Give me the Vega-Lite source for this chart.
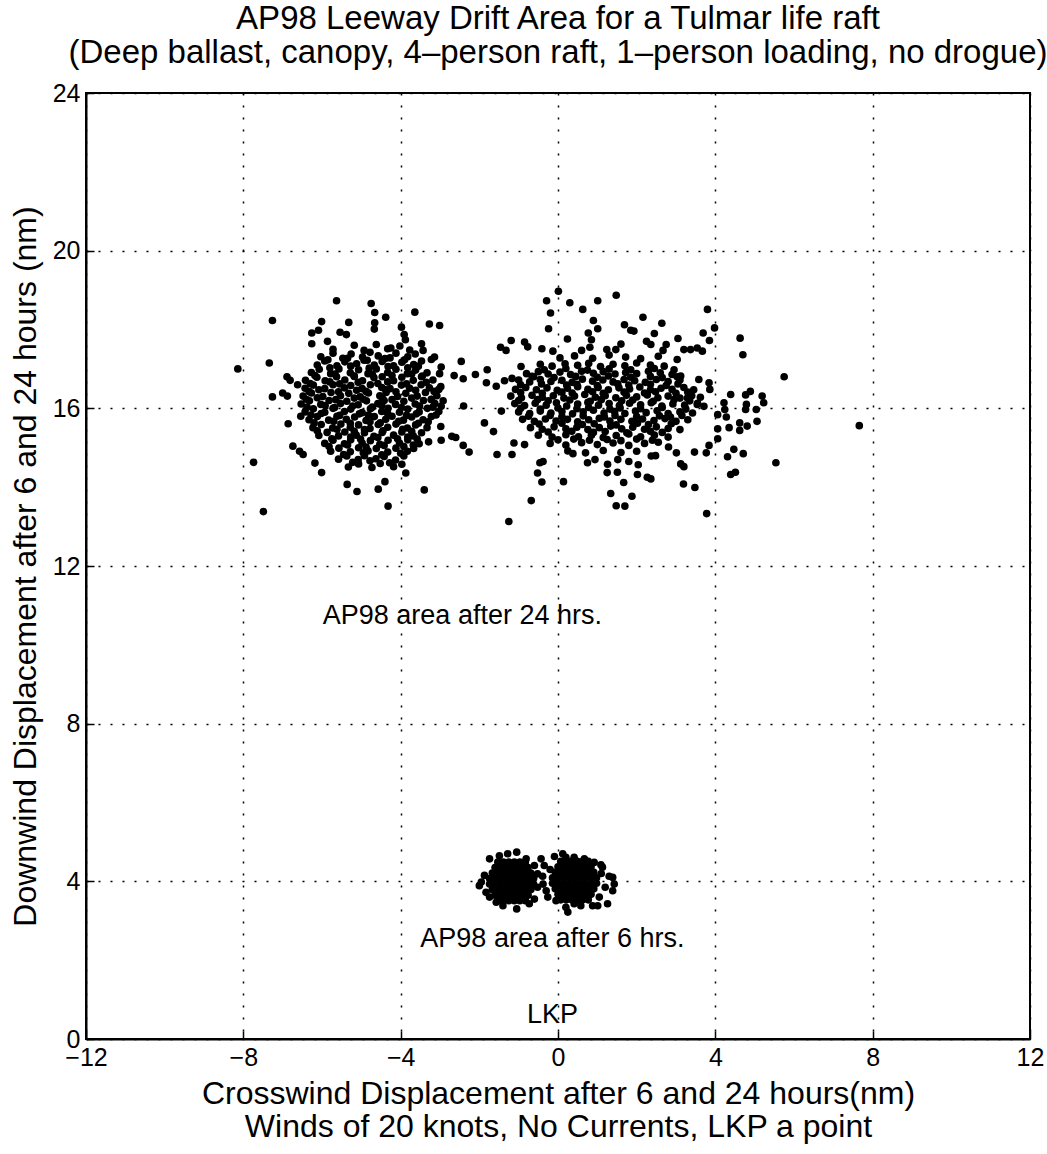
{
  "$schema": "https://vega.github.io/schema/vega-lite/v6.json",
  "autosize": {"type": "none"},
  "width": 944,
  "height": 946,
  "padding": {"left": 86, "top": 93, "right": 17, "bottom": 115},
  "background": "white",
  "config": {
    "font": "Liberation Sans",
    "view": {"stroke": "black", "strokeWidth": 2},
    "title": {"fontSize": 33, "fontWeight": "normal", "color": "black", "font": "Liberation Sans", "offset": 11, "lineHeight": 34}
  },
  "title": {"text": ["AP98 Leeway Drift Area for a Tulmar life raft", "(Deep ballast, canopy, 4–person raft, 1–person loading, no drogue)"]},
  "datasets": {
    "pts": [
      {"x":-5.63,"y":18.73},{"x":-4.75,"y":18.66},{"x":-7.26,"y":18.23},{"x":-3.64,"y":18.44},{"x":-4.66,"y":18.43},{"x":-4.38,"y":18.31},{"x":-3.27,"y":18.14},{"x":-3.01,"y":18.1},{"x":-6.01,"y":18.2},{"x":-5.32,"y":18.18},
      {"x":-8.14,"y":17.0},{"x":-7.34,"y":17.15},{"x":-7.26,"y":16.29},{"x":-7.74,"y":14.63},{"x":-7.49,"y":13.38},{"x":-4.32,"y":13.52},{"x":-3.4,"y":13.93},{"x":-2.26,"y":14.89},{"x":-2.41,"y":15.06},{"x":-2.1,"y":16.86},
      {"x":-2.4,"y":16.06},{"x":-2.46,"y":17.19},{"x":-2.64,"y":16.83},{"x":-2.41,"y":16.75},{"x":-2.7,"y":15.29},{"x":-2.6,"y":15.26},{"x":-2.98,"y":15.54},{"x":-2.97,"y":15.19},{"x":-3.29,"y":15.15},{"x":-5.11,"y":13.89},
      {"x":-4.57,"y":13.95},{"x":-5.36,"y":14.07},{"x":-3.87,"y":14.36},{"x":-4.4,"y":14.14},{"x":-6.01,"y":14.37},{"x":-6.18,"y":14.61},{"x":-6.74,"y":15.04},{"x":-6.57,"y":14.91},{"x":-6.48,"y":14.83},{"x":-6.86,"y":15.61},
      {"x":-6.54,"y":15.8},{"x":-7.0,"y":16.39},{"x":-6.88,"y":16.31},{"x":-6.89,"y":16.8},{"x":-6.81,"y":16.71},{"x":-6.62,"y":16.6},{"x":-6.26,"y":17.91},{"x":-6.09,"y":17.98},{"x":-5.86,"y":17.7},{"x":-6.26,"y":17.64},
      {"x":-5.54,"y":17.93},{"x":-5.38,"y":17.87},{"x":-4.66,"y":18.17},{"x":-4.67,"y":18.01},{"x":-3.98,"y":18.06},{"x":-3.91,"y":17.87},{"x":-3.88,"y":17.74},{"x":-3.47,"y":17.64},{"x":-3.43,"y":17.47},{"x":-4.25,"y":17.53},
      {"x":-3.14,"y":17.3},{"x":-3.22,"y":17.24},{"x":-2.97,"y":17.05},{"x":-3.01,"y":16.88},{"x":-2.98,"y":16.55},{"x":-3.22,"y":16.22},{"x":-2.97,"y":16.05},
      {"x":-5.72,"y":17.5},{"x":-5.18,"y":17.6},{"x":-4.93,"y":17.47},{"x":-4.62,"y":17.62},{"x":-4.33,"y":17.51},{"x":-4.02,"y":17.58},{"x":-3.77,"y":17.48},
      {"x":-6.03,"y":17.31},{"x":-5.72,"y":17.4},{"x":-5.47,"y":17.27},{"x":-5.26,"y":17.38},{"x":-4.97,"y":17.3},{"x":-4.78,"y":17.42},{"x":-4.57,"y":17.33},{"x":-4.27,"y":17.28},{"x":-4.12,"y":17.4},{"x":-3.82,"y":17.31},{"x":-3.63,"y":17.38},
      {"x":-6.12,"y":17.1},{"x":-5.93,"y":17.2},{"x":-5.62,"y":17.08},{"x":-5.42,"y":17.18},{"x":-5.12,"y":17.13},{"x":-4.93,"y":17.22},{"x":-4.67,"y":17.1},{"x":-4.47,"y":17.19},{"x":-4.18,"y":17.08},{"x":-3.97,"y":17.17},{"x":-3.67,"y":17.11},{"x":-3.47,"y":17.2},
      {"x":-6.27,"y":16.91},{"x":-6.07,"y":16.99},{"x":-5.78,"y":16.88},{"x":-5.57,"y":17.0},{"x":-5.28,"y":16.9},{"x":-5.07,"y":16.98},{"x":-4.83,"y":16.88},{"x":-4.62,"y":17.0},{"x":-4.33,"y":16.91},{"x":-4.12,"y":16.99},{"x":-3.83,"y":16.88},{"x":-3.62,"y":16.97},{"x":-3.33,"y":16.9},
      {"x":-6.42,"y":16.71},{"x":-6.13,"y":16.79},{"x":-5.92,"y":16.7},{"x":-5.63,"y":16.8},{"x":-5.42,"y":16.72},{"x":-5.18,"y":16.81},{"x":-4.97,"y":16.7},{"x":-4.68,"y":16.78},{"x":-4.47,"y":16.8},{"x":-4.18,"y":16.7},{"x":-3.97,"y":16.79},{"x":-3.68,"y":16.71},{"x":-3.47,"y":16.8},{"x":-3.18,"y":16.72},
      {"x":-6.43,"y":16.51},{"x":-6.22,"y":16.59},{"x":-5.93,"y":16.5},{"x":-5.72,"y":16.6},{"x":-5.43,"y":16.52},{"x":-5.27,"y":16.58},{"x":-4.98,"y":16.5},{"x":-4.77,"y":16.6},{"x":-4.48,"y":16.53},{"x":-4.27,"y":16.5},{"x":-3.98,"y":16.59},{"x":-3.77,"y":16.51},{"x":-3.48,"y":16.6},{"x":-3.27,"y":16.52},{"x":-3.03,"y":16.48},
      {"x":-6.48,"y":16.31},{"x":-6.27,"y":16.39},{"x":-5.98,"y":16.3},{"x":-5.77,"y":16.4},{"x":-5.53,"y":16.32},{"x":-5.32,"y":16.38},{"x":-5.03,"y":16.29},{"x":-4.82,"y":16.39},{"x":-4.53,"y":16.32},{"x":-4.37,"y":16.4},{"x":-4.08,"y":16.3},{"x":-3.87,"y":16.38},{"x":-3.58,"y":16.31},{"x":-3.37,"y":16.4},{"x":-3.08,"y":16.32},
      {"x":-6.53,"y":16.11},{"x":-6.32,"y":16.19},{"x":-6.03,"y":16.1},{"x":-5.82,"y":16.2},{"x":-5.53,"y":16.12},{"x":-5.37,"y":16.18},{"x":-5.08,"y":16.09},{"x":-4.87,"y":16.19},{"x":-4.58,"y":16.12},{"x":-4.42,"y":16.2},{"x":-4.13,"y":16.1},{"x":-3.92,"y":16.18},{"x":-3.63,"y":16.11},{"x":-3.42,"y":16.2},{"x":-3.13,"y":16.12},{"x":-2.92,"y":16.19},
      {"x":-6.43,"y":15.91},{"x":-6.22,"y":15.99},{"x":-5.93,"y":15.9},{"x":-5.72,"y":16.0},{"x":-5.43,"y":15.92},{"x":-5.27,"y":15.98},{"x":-4.98,"y":15.89},{"x":-4.77,"y":15.99},{"x":-4.48,"y":15.92},{"x":-4.32,"y":16.0},{"x":-4.03,"y":15.9},{"x":-3.82,"y":15.98},{"x":-3.53,"y":15.91},{"x":-3.32,"y":16.0},{"x":-3.03,"y":15.92},
      {"x":-6.33,"y":15.71},{"x":-6.12,"y":15.79},{"x":-5.83,"y":15.7},{"x":-5.62,"y":15.8},{"x":-5.38,"y":15.72},{"x":-5.17,"y":15.78},{"x":-4.88,"y":15.69},{"x":-4.67,"y":15.79},{"x":-4.38,"y":15.72},{"x":-4.22,"y":15.8},{"x":-3.93,"y":15.7},{"x":-3.72,"y":15.78},{"x":-3.43,"y":15.71},{"x":-3.22,"y":15.79},
      {"x":-6.23,"y":15.51},{"x":-6.02,"y":15.59},{"x":-5.73,"y":15.5},{"x":-5.52,"y":15.6},{"x":-5.28,"y":15.52},{"x":-5.07,"y":15.58},{"x":-4.78,"y":15.49},{"x":-4.57,"y":15.59},{"x":-4.33,"y":15.52},{"x":-4.12,"y":15.6},{"x":-3.83,"y":15.5},{"x":-3.62,"y":15.58},{"x":-3.33,"y":15.51},
      {"x":-6.08,"y":15.31},{"x":-5.87,"y":15.39},{"x":-5.58,"y":15.3},{"x":-5.42,"y":15.4},{"x":-5.13,"y":15.32},{"x":-4.92,"y":15.38},{"x":-4.68,"y":15.29},{"x":-4.47,"y":15.39},{"x":-4.18,"y":15.32},{"x":-3.97,"y":15.4},{"x":-3.68,"y":15.3},{"x":-3.47,"y":15.38},
      {"x":-5.93,"y":15.11},{"x":-5.72,"y":15.19},{"x":-5.43,"y":15.1},{"x":-5.27,"y":15.2},{"x":-4.98,"y":15.12},{"x":-4.77,"y":15.18},{"x":-4.53,"y":15.09},{"x":-4.32,"y":15.19},{"x":-4.03,"y":15.12},{"x":-3.82,"y":15.2},{"x":-3.53,"y":15.1},
      {"x":-5.78,"y":14.91},{"x":-5.57,"y":14.99},{"x":-5.28,"y":14.9},{"x":-5.07,"y":15.0},{"x":-4.83,"y":14.92},{"x":-4.62,"y":14.98},{"x":-4.33,"y":14.89},{"x":-4.12,"y":14.99},{"x":-3.83,"y":14.91},{"x":-3.67,"y":14.98},
      {"x":-5.58,"y":14.71},{"x":-5.37,"y":14.79},{"x":-5.08,"y":14.7},{"x":-4.92,"y":14.8},{"x":-4.63,"y":14.72},{"x":-4.42,"y":14.78},{"x":-4.13,"y":14.69},{"x":-3.92,"y":14.79},
      {"x":-5.33,"y":14.51},{"x":-5.07,"y":14.59},{"x":-4.73,"y":14.5},{"x":-4.52,"y":14.6},{"x":-4.18,"y":14.52},{"x":-3.97,"y":14.58},
      {"x":-5.85,"y":17.23},{"x":-5.35,"y":17.27},{"x":-4.85,"y":17.22},{"x":-4.4,"y":17.26},{"x":-3.9,"y":17.23},
      {"x":-5.8,"y":17.03},{"x":-5.27,"y":17.07},{"x":-4.8,"y":17.02},{"x":-4.32,"y":17.06},{"x":-3.82,"y":17.03},{"x":-3.55,"y":17.07},
      {"x":-6.18,"y":16.83},{"x":-5.67,"y":16.87},{"x":-5.18,"y":16.82},{"x":-4.72,"y":16.86},{"x":-4.22,"y":16.83},{"x":-3.72,"y":16.87},{"x":-3.45,"y":16.82},
      {"x":-6.3,"y":16.63},{"x":-5.8,"y":16.67},{"x":-5.55,"y":16.62},{"x":-5.08,"y":16.66},{"x":-4.58,"y":16.63},{"x":-4.33,"y":16.67},{"x":-3.85,"y":16.62},{"x":-3.35,"y":16.66},
      {"x":-6.33,"y":16.43},{"x":-6.08,"y":16.47},{"x":-5.58,"y":16.42},{"x":-5.12,"y":16.46},{"x":-4.88,"y":16.43},{"x":-4.38,"y":16.47},{"x":-4.12,"y":16.42},{"x":-3.62,"y":16.46},{"x":-3.15,"y":16.43},
      {"x":-6.4,"y":16.23},{"x":-6.12,"y":16.27},{"x":-5.65,"y":16.22},{"x":-5.18,"y":16.26},{"x":-4.95,"y":16.23},{"x":-4.47,"y":16.27},{"x":-4.22,"y":16.22},{"x":-3.72,"y":16.26},{"x":-3.22,"y":16.23},
      {"x":-6.38,"y":16.03},{"x":-5.92,"y":16.07},{"x":-5.68,"y":16.02},{"x":-5.22,"y":16.06},{"x":-4.72,"y":16.03},{"x":-4.48,"y":16.07},{"x":-3.98,"y":16.02},{"x":-3.52,"y":16.06},{"x":-3.18,"y":16.03},
      {"x":-6.28,"y":15.83},{"x":-6.02,"y":15.87},{"x":-5.55,"y":15.82},{"x":-5.05,"y":15.86},{"x":-4.82,"y":15.83},{"x":-4.33,"y":15.87},{"x":-3.85,"y":15.82},{"x":-3.6,"y":15.86},{"x":-3.1,"y":15.83},
      {"x":-6.2,"y":15.63},{"x":-5.7,"y":15.67},{"x":-5.28,"y":15.62},{"x":-4.78,"y":15.66},{"x":-4.52,"y":15.63},{"x":-4.05,"y":15.67},{"x":-3.55,"y":15.62},{"x":-3.3,"y":15.66},
      {"x":-6.12,"y":15.43},{"x":-5.62,"y":15.47},{"x":-5.18,"y":15.42},{"x":-4.92,"y":15.46},{"x":-4.45,"y":15.43},{"x":-3.95,"y":15.47},{"x":-3.72,"y":15.42},
      {"x":-5.75,"y":15.23},{"x":-5.27,"y":15.27},{"x":-5.02,"y":15.22},{"x":-4.58,"y":15.26},{"x":-4.08,"y":15.23},{"x":-3.82,"y":15.27},{"x":-3.58,"y":15.22},
      {"x":-5.82,"y":15.03},{"x":-5.35,"y":15.07},{"x":-4.88,"y":15.02},{"x":-4.42,"y":15.06},{"x":-3.92,"y":15.03},{"x":-3.68,"y":15.07},
      {"x":-5.45,"y":14.83},{"x":-4.95,"y":14.87},{"x":-4.48,"y":14.82},{"x":-4.0,"y":14.86},
      {"x":-5.22,"y":14.63},{"x":-4.78,"y":14.67},{"x":-4.28,"y":14.62},
      {"x":0.01,"y":18.97},{"x":-0.29,"y":18.73},{"x":0.3,"y":18.68},{"x":1.01,"y":18.73},{"x":1.48,"y":18.87},{"x":-0.19,"y":18.42},{"x":0.63,"y":18.51},{"x":2.16,"y":18.31},{"x":0.9,"y":18.23},{"x":1.01,"y":18.02},
      {"x":1.69,"y":18.12},{"x":1.85,"y":17.98},{"x":1.93,"y":17.96},{"x":2.64,"y":18.16},{"x":3.8,"y":18.51},{"x":-0.24,"y":18.02},{"x":3.69,"y":17.91},{"x":3.98,"y":18.04},{"x":3.85,"y":17.72},{"x":4.63,"y":17.78},
      {"x":4.7,"y":17.36},{"x":3.05,"y":17.77},{"x":2.45,"y":17.9},{"x":2.25,"y":17.7},{"x":2.36,"y":17.62},{"x":2.75,"y":17.62},{"x":2.67,"y":17.47},{"x":0.77,"y":17.91},{"x":0.85,"y":17.74},{"x":0.81,"y":17.55},
      {"x":0.24,"y":17.76},{"x":-1.19,"y":17.72},{"x":-1.46,"y":17.55},{"x":-1.32,"y":17.47},{"x":-0.85,"y":17.68},{"x":-0.77,"y":17.56},{"x":-0.41,"y":17.51},{"x":-0.13,"y":17.45},{"x":0.6,"y":17.47},{"x":1.24,"y":17.49},
      {"x":1.47,"y":17.49},{"x":1.6,"y":17.63},{"x":-1.8,"y":16.98},{"x":-1.82,"y":16.65},{"x":-1.57,"y":16.56},{"x":-1.36,"y":16.7},{"x":-1.17,"y":16.76},{"x":-0.94,"y":17.06},{"x":-0.66,"y":16.81},{"x":-1.87,"y":15.63},
      {"x":-1.64,"y":15.41},{"x":-1.55,"y":14.83},{"x":-1.17,"y":14.83},{"x":-0.85,"y":15.08},{"x":-1.12,"y":15.12},{"x":-1.44,"y":15.93},{"x":-0.68,"y":13.66},{"x":-0.41,"y":14.13},{"x":-0.52,"y":14.36},{"x":-0.46,"y":14.62},
      {"x":-0.38,"y":14.65},{"x":0.14,"y":14.14},{"x":0.38,"y":14.85},{"x":1.34,"y":13.84},{"x":1.88,"y":13.77},{"x":1.48,"y":13.53},{"x":1.7,"y":13.52},{"x":1.67,"y":14.12},{"x":1.25,"y":14.37},{"x":1.51,"y":14.38},
      {"x":2.02,"y":14.32},{"x":2.27,"y":14.25},{"x":2.36,"y":14.21},{"x":0.75,"y":14.62},{"x":0.94,"y":14.7},{"x":1.26,"y":14.58},{"x":1.52,"y":14.7},{"x":1.8,"y":14.65},{"x":2.04,"y":14.57},{"x":2.37,"y":14.79},
      {"x":2.48,"y":14.8},{"x":2.81,"y":15.02},{"x":3.01,"y":14.87},{"x":3.47,"y":14.89},{"x":3.12,"y":14.59},{"x":3.2,"y":14.52},{"x":3.19,"y":14.08},{"x":3.48,"y":13.99},{"x":3.78,"y":13.33},{"x":3.77,"y":14.87},
      {"x":3.84,"y":15.06},{"x":4.06,"y":15.23},{"x":4.31,"y":14.77},{"x":4.47,"y":14.96},{"x":4.71,"y":14.85},{"x":4.39,"y":14.32},{"x":4.51,"y":14.38},{"x":5.54,"y":14.62},{"x":5.06,"y":15.67},{"x":5.04,"y":15.97},
      {"x":5.23,"y":16.14},{"x":5.19,"y":16.31},{"x":4.77,"y":16.34},{"x":4.89,"y":16.43},{"x":4.79,"y":16.1},{"x":4.77,"y":15.97},{"x":4.62,"y":15.63},{"x":4.62,"y":15.44},{"x":4.81,"y":15.55},{"x":4.35,"y":15.51},
      {"x":4.39,"y":16.35},{"x":4.22,"y":16.14},{"x":4.24,"y":15.97},{"x":4.06,"y":15.84},{"x":4.28,"y":15.78},{"x":4.06,"y":15.48},{"x":3.58,"y":16.73},{"x":3.84,"y":16.65},{"x":3.86,"y":16.48},{"x":3.03,"y":16.8},
      {"x":3.12,"y":16.82},{"x":2.95,"y":16.98},{"x":3.03,"y":17.24},{"x":3.2,"y":17.49},{"x":3.37,"y":17.49},{"x":3.54,"y":17.53},{"x":3.67,"y":17.45},{"x":3.29,"y":16.26},{"x":3.54,"y":16.1},{"x":3.71,"y":16.05},
      {"x":5.75,"y":16.8},{"x":7.66,"y":15.56},{"x":-1.25,"y":13.13},
      {"x":0.05,"y":17.28},{"x":0.42,"y":17.33},{"x":0.88,"y":17.27},{"x":1.3,"y":17.35},{"x":1.72,"y":17.3},{"x":2.1,"y":17.26},{"x":2.55,"y":17.32},
      {"x":-0.45,"y":17.12},{"x":-0.15,"y":17.07},{"x":0.18,"y":17.13},{"x":0.5,"y":17.09},{"x":0.78,"y":17.14},{"x":1.08,"y":17.06},{"x":1.4,"y":17.12},{"x":1.7,"y":17.08},{"x":2.0,"y":17.15},{"x":2.35,"y":17.1},{"x":2.7,"y":17.07},
      {"x":-0.8,"y":16.88},{"x":-0.5,"y":16.93},{"x":-0.25,"y":16.87},{"x":0.05,"y":16.92},{"x":0.32,"y":16.86},{"x":0.6,"y":16.94},{"x":0.9,"y":16.89},{"x":1.15,"y":16.93},{"x":1.45,"y":16.87},{"x":1.72,"y":16.91},{"x":2.0,"y":16.88},{"x":2.3,"y":16.94},{"x":2.6,"y":16.9},{"x":2.9,"y":16.86},
      {"x":-1.0,"y":16.72},{"x":-0.72,"y":16.67},{"x":-0.45,"y":16.73},{"x":-0.18,"y":16.68},{"x":0.1,"y":16.71},{"x":0.36,"y":16.66},{"x":0.62,"y":16.74},{"x":0.88,"y":16.69},{"x":1.14,"y":16.72},{"x":1.4,"y":16.67},{"x":1.68,"y":16.73},{"x":1.95,"y":16.7},{"x":2.22,"y":16.66},{"x":2.5,"y":16.73},{"x":2.8,"y":16.68},{"x":3.1,"y":16.72},
      {"x":-1.08,"y":16.48},{"x":-0.82,"y":16.53},{"x":-0.55,"y":16.47},{"x":-0.28,"y":16.52},{"x":-0.02,"y":16.46},{"x":0.24,"y":16.51},{"x":0.5,"y":16.55},{"x":0.76,"y":16.48},{"x":1.02,"y":16.53},{"x":1.28,"y":16.47},{"x":1.55,"y":16.52},{"x":1.82,"y":16.49},{"x":2.08,"y":16.54},{"x":2.35,"y":16.47},{"x":2.62,"y":16.51},{"x":2.9,"y":16.48},{"x":3.2,"y":16.53},{"x":3.45,"y":16.47},
      {"x":-1.2,"y":16.31},{"x":-0.93,"y":16.27},{"x":-0.66,"y":16.33},{"x":-0.4,"y":16.28},{"x":-0.12,"y":16.32},{"x":0.15,"y":16.26},{"x":0.42,"y":16.31},{"x":0.68,"y":16.35},{"x":0.95,"y":16.28},{"x":1.2,"y":16.32},{"x":1.47,"y":16.27},{"x":1.74,"y":16.33},{"x":2.0,"y":16.29},{"x":2.27,"y":16.34},{"x":2.54,"y":16.27},{"x":2.8,"y":16.31},{"x":3.1,"y":16.26},{"x":3.4,"y":16.32},{"x":3.62,"y":16.28},
      {"x":-1.1,"y":16.12},{"x":-0.85,"y":16.07},{"x":-0.58,"y":16.13},{"x":-0.3,"y":16.08},{"x":-0.04,"y":16.14},{"x":0.22,"y":16.06},{"x":0.5,"y":16.11},{"x":0.76,"y":16.15},{"x":1.03,"y":16.08},{"x":1.3,"y":16.12},{"x":1.56,"y":16.07},{"x":1.82,"y":16.13},{"x":2.1,"y":16.09},{"x":2.37,"y":16.14},{"x":2.64,"y":16.06},{"x":2.92,"y":16.11},{"x":3.22,"y":16.08},{"x":3.55,"y":16.13},
      {"x":-1.0,"y":15.91},{"x":-0.72,"y":15.87},{"x":-0.45,"y":15.93},{"x":-0.18,"y":15.88},{"x":0.1,"y":15.92},{"x":0.37,"y":15.86},{"x":0.64,"y":15.91},{"x":0.9,"y":15.95},{"x":1.17,"y":15.88},{"x":1.44,"y":15.92},{"x":1.7,"y":15.87},{"x":1.97,"y":15.93},{"x":2.24,"y":15.89},{"x":2.52,"y":15.94},{"x":2.8,"y":15.87},{"x":3.1,"y":15.91},{"x":3.42,"y":15.88},
      {"x":-0.9,"y":15.72},{"x":-0.6,"y":15.67},{"x":-0.32,"y":15.73},{"x":-0.05,"y":15.68},{"x":0.24,"y":15.72},{"x":0.5,"y":15.66},{"x":0.78,"y":15.71},{"x":1.05,"y":15.75},{"x":1.32,"y":15.68},{"x":1.6,"y":15.72},{"x":1.88,"y":15.67},{"x":2.15,"y":15.73},{"x":2.44,"y":15.69},{"x":2.72,"y":15.74},{"x":3.0,"y":15.67},{"x":3.3,"y":15.71},
      {"x":-0.7,"y":15.51},{"x":-0.4,"y":15.47},{"x":-0.1,"y":15.53},{"x":0.2,"y":15.48},{"x":0.48,"y":15.52},{"x":0.76,"y":15.46},{"x":1.05,"y":15.51},{"x":1.34,"y":15.55},{"x":1.62,"y":15.48},{"x":1.9,"y":15.52},{"x":2.2,"y":15.47},{"x":2.5,"y":15.53},{"x":2.8,"y":15.49},{"x":3.1,"y":15.46},
      {"x":-0.5,"y":15.32},{"x":-0.15,"y":15.27},{"x":0.2,"y":15.33},{"x":0.52,"y":15.28},{"x":0.85,"y":15.32},{"x":1.15,"y":15.26},{"x":1.48,"y":15.31},{"x":1.8,"y":15.35},{"x":2.1,"y":15.28},{"x":2.45,"y":15.32},{"x":2.8,"y":15.27},
      {"x":-0.2,"y":15.11},{"x":0.2,"y":15.07},{"x":0.6,"y":15.13},{"x":1.0,"y":15.08},{"x":1.4,"y":15.12},{"x":1.8,"y":15.06},{"x":2.2,"y":15.11},{"x":2.55,"y":15.14},
      {"x":0.25,"y":14.92},{"x":0.7,"y":14.87},{"x":1.15,"y":14.93},{"x":1.6,"y":14.88},{"x":2.0,"y":14.91},
      {"x":-0.35,"y":16.98},{"x":0.2,"y":17.01},{"x":0.75,"y":16.97},{"x":1.3,"y":17.0},{"x":1.85,"y":16.98},{"x":2.45,"y":17.01},
      {"x":-0.62,"y":16.8},{"x":-0.1,"y":16.78},{"x":0.45,"y":16.81},{"x":1.0,"y":16.79},{"x":1.28,"y":16.82},{"x":1.85,"y":16.79},{"x":2.35,"y":16.81},{"x":2.65,"y":16.78},
      {"x":-0.95,"y":16.6},{"x":-0.42,"y":16.62},{"x":0.22,"y":16.59},{"x":0.48,"y":16.61},{"x":1.0,"y":16.58},{"x":1.52,"y":16.62},{"x":1.8,"y":16.59},{"x":2.35,"y":16.61},{"x":2.75,"y":16.58},{"x":3.05,"y":16.62},
      {"x":-0.95,"y":16.4},{"x":-0.4,"y":16.38},{"x":0.1,"y":16.41},{"x":0.36,"y":16.39},{"x":0.88,"y":16.42},{"x":1.15,"y":16.38},{"x":1.68,"y":16.41},{"x":2.2,"y":16.39},{"x":2.48,"y":16.42},{"x":3.0,"y":16.38},{"x":3.3,"y":16.41},
      {"x":-1.0,"y":16.2},{"x":-0.52,"y":16.22},{"x":-0.25,"y":16.19},{"x":0.3,"y":16.21},{"x":0.82,"y":16.18},{"x":1.1,"y":16.22},{"x":1.62,"y":16.19},{"x":1.9,"y":16.21},{"x":2.42,"y":16.18},{"x":2.95,"y":16.22},{"x":3.35,"y":16.19},
      {"x":-0.95,"y":16.0},{"x":-0.45,"y":15.98},{"x":0.0,"y":16.01},{"x":0.48,"y":15.99},{"x":0.78,"y":16.02},{"x":1.32,"y":15.98},{"x":1.58,"y":16.01},{"x":2.1,"y":15.99},{"x":2.65,"y":16.02},{"x":3.25,"y":15.98},
      {"x":-0.75,"y":15.8},{"x":-0.2,"y":15.82},{"x":0.1,"y":15.79},{"x":0.64,"y":15.81},{"x":1.18,"y":15.78},{"x":1.45,"y":15.82},{"x":2.0,"y":15.79},{"x":2.58,"y":15.81},{"x":2.86,"y":15.78},{"x":3.15,"y":15.82},
      {"x":-0.48,"y":15.6},{"x":0.1,"y":15.62},{"x":0.62,"y":15.59},{"x":0.92,"y":15.61},{"x":1.48,"y":15.58},{"x":2.02,"y":15.62},{"x":2.3,"y":15.59},{"x":2.88,"y":15.61},
      {"x":-0.25,"y":15.4},{"x":0.35,"y":15.42},{"x":0.9,"y":15.39},{"x":1.2,"y":15.41},{"x":1.75,"y":15.38},{"x":2.35,"y":15.42},{"x":2.65,"y":15.39},
      {"x":0.0,"y":15.2},{"x":0.4,"y":15.22},{"x":0.8,"y":15.19},{"x":1.25,"y":15.21},{"x":1.6,"y":15.18},{"x":2.0,"y":15.22},{"x":2.4,"y":15.19},
      {"x":-1.53,"y":3.51},{"x":-1.39,"y":3.51},{"x":-1.25,"y":3.51},{"x":-1.11,"y":3.51},{"x":-0.97,"y":3.51},{"x":-0.83,"y":3.51},
      {"x":-1.6,"y":3.65},{"x":-1.46,"y":3.65},{"x":-1.32,"y":3.65},{"x":-1.18,"y":3.65},{"x":-1.04,"y":3.65},{"x":-0.9,"y":3.65},{"x":-0.76,"y":3.65},
      {"x":-1.67,"y":3.79},{"x":-1.53,"y":3.79},{"x":-1.39,"y":3.79},{"x":-1.25,"y":3.79},{"x":-1.11,"y":3.79},{"x":-0.97,"y":3.79},{"x":-0.83,"y":3.79},{"x":-0.69,"y":3.79},
      {"x":-1.74,"y":3.93},{"x":-1.6,"y":3.93},{"x":-1.46,"y":3.93},{"x":-1.32,"y":3.93},{"x":-1.18,"y":3.93},{"x":-1.04,"y":3.93},{"x":-0.9,"y":3.93},{"x":-0.76,"y":3.93},{"x":-0.62,"y":3.93},
      {"x":-1.74,"y":4.07},{"x":-1.6,"y":4.07},{"x":-1.46,"y":4.07},{"x":-1.32,"y":4.07},{"x":-1.18,"y":4.07},{"x":-1.04,"y":4.07},{"x":-0.9,"y":4.07},{"x":-0.76,"y":4.07},{"x":-0.62,"y":4.07},
      {"x":-1.67,"y":4.21},{"x":-1.53,"y":4.21},{"x":-1.39,"y":4.21},{"x":-1.25,"y":4.21},{"x":-1.11,"y":4.21},{"x":-0.97,"y":4.21},{"x":-0.83,"y":4.21},{"x":-0.69,"y":4.21},
      {"x":-1.6,"y":4.35},{"x":-1.46,"y":4.35},{"x":-1.32,"y":4.35},{"x":-1.18,"y":4.35},{"x":-1.04,"y":4.35},{"x":-0.9,"y":4.35},{"x":-0.76,"y":4.35},
      {"x":-1.53,"y":4.49},{"x":-1.39,"y":4.49},{"x":-1.25,"y":4.49},{"x":-1.11,"y":4.49},{"x":-0.97,"y":4.49},{"x":-0.83,"y":4.49},
      {"x":-1.74,"y":4.57},{"x":-1.49,"y":4.65},{"x":-1.28,"y":4.7},{"x":-1.05,"y":4.74},{"x":-0.81,"y":4.57},{"x":-0.6,"y":4.4},{"x":-1.95,"y":3.98},{"x":-2.0,"y":3.89},{"x":-1.87,"y":4.15},{"x":-1.83,"y":3.72},
      {"x":-1.74,"y":3.6},{"x":-1.57,"y":3.47},{"x":-1.4,"y":3.38},{"x":-1.05,"y":3.3},{"x":-0.73,"y":3.43},{"x":-0.6,"y":3.55},{"x":-0.52,"y":3.85},{"x":-0.52,"y":4.19},
      {"x":0.07,"y":3.53},{"x":0.21,"y":3.53},{"x":0.35,"y":3.53},{"x":0.49,"y":3.53},{"x":0.63,"y":3.53},{"x":0.77,"y":3.53},
      {"x":0.0,"y":3.67},{"x":0.14,"y":3.67},{"x":0.28,"y":3.67},{"x":0.42,"y":3.67},{"x":0.56,"y":3.67},{"x":0.7,"y":3.67},{"x":0.84,"y":3.67},
      {"x":-0.07,"y":3.81},{"x":0.07,"y":3.81},{"x":0.21,"y":3.81},{"x":0.35,"y":3.81},{"x":0.49,"y":3.81},{"x":0.63,"y":3.81},{"x":0.77,"y":3.81},{"x":0.91,"y":3.81},
      {"x":-0.14,"y":3.95},{"x":0.0,"y":3.95},{"x":0.14,"y":3.95},{"x":0.28,"y":3.95},{"x":0.42,"y":3.95},{"x":0.56,"y":3.95},{"x":0.7,"y":3.95},{"x":0.84,"y":3.95},{"x":0.98,"y":3.95},
      {"x":-0.14,"y":4.09},{"x":0.0,"y":4.09},{"x":0.14,"y":4.09},{"x":0.28,"y":4.09},{"x":0.42,"y":4.09},{"x":0.56,"y":4.09},{"x":0.7,"y":4.09},{"x":0.84,"y":4.09},{"x":0.98,"y":4.09},
      {"x":-0.07,"y":4.23},{"x":0.07,"y":4.23},{"x":0.21,"y":4.23},{"x":0.35,"y":4.23},{"x":0.49,"y":4.23},{"x":0.63,"y":4.23},{"x":0.77,"y":4.23},{"x":0.91,"y":4.23},
      {"x":0.0,"y":4.37},{"x":0.14,"y":4.37},{"x":0.28,"y":4.37},{"x":0.42,"y":4.37},{"x":0.56,"y":4.37},{"x":0.7,"y":4.37},{"x":0.84,"y":4.37},
      {"x":0.07,"y":4.51},{"x":0.21,"y":4.51},{"x":0.35,"y":4.51},{"x":0.49,"y":4.51},{"x":0.63,"y":4.51},{"x":0.77,"y":4.51},
      {"x":-0.43,"y":4.57},{"x":-0.35,"y":4.4},{"x":-0.09,"y":4.63},{"x":0.12,"y":4.7},{"x":0.2,"y":4.61},{"x":0.41,"y":4.61},{"x":0.67,"y":4.57},{"x":0.92,"y":4.48},{"x":1.09,"y":4.42},{"x":1.13,"y":4.36},
      {"x":1.39,"y":4.1},{"x":1.43,"y":3.93},{"x":1.3,"y":4.13},{"x":1.2,"y":3.85},{"x":1.39,"y":3.76},{"x":1.26,"y":3.43},{"x":1.01,"y":3.38},{"x":0.88,"y":3.38},{"x":0.58,"y":3.38},{"x":0.41,"y":3.43},
      {"x":0.2,"y":3.34},{"x":0.25,"y":3.22},{"x":-0.05,"y":3.51},{"x":-0.26,"y":3.6},{"x":-0.3,"y":3.76},{"x":-0.38,"y":3.93},{"x":-0.39,"y":4.13},{"x":1.1,"y":4.2},{"x":1.05,"y":3.6},{"x":-0.2,"y":4.3}
    ],
    "labels": [
      {"x": -5.98, "y": 10.72, "label": "AP98 area after 24 hrs."},
      {"x": -3.5, "y": 2.53, "label": "AP98 area after 6 hrs."},
      {"x": -0.79, "y": 0.61, "label": "LKP"}
    ]
  },
  "encoding": {
    "x": {
      "field": "x", "type": "quantitative",
      "scale": {"domain": [-12, 12], "nice": false, "zero": false},
      "axis": {
        "values": [-12, -8, -4, 0, 4, 8, 12],
        "title": ["Crosswind Displacement after 6 and 24 hours(nm)", "Winds of 20 knots, No Currents, LKP a point"],
        "titleFontSize": 32, "titleFontWeight": "normal", "titleColor": "black", "titleFont": "Liberation Sans", "titlePadding": 8, "titleLineHeight": 33,
        "labelFontSize": 25, "labelColor": "black", "labelFont": "Liberation Sans", "labelPadding": 14, "labelFlush": false,
        "grid": true, "gridColor": "black", "gridDash": [2, 10], "gridWidth": 1.5, "gridOpacity": 1,
        "domainColor": "black", "domainWidth": 2, "tickColor": "black", "tickSize": -8, "tickWidth": 1.5
      }
    },
    "y": {
      "field": "y", "type": "quantitative",
      "scale": {"domain": [0, 24], "nice": false, "zero": false},
      "axis": {
        "values": [0, 4, 8, 12, 16, 20, 24],
        "title": "Downwind Displacement after 6 and 24 hours (nm)",
        "titleFontSize": 32, "titleFontWeight": "normal", "titleColor": "black", "titleFont": "Liberation Sans", "titlePadding": 10,
        "labelFontSize": 25, "labelColor": "black", "labelFont": "Liberation Sans", "labelPadding": 14, "labelFlush": false,
        "grid": true, "gridColor": "black", "gridDash": [2, 10], "gridWidth": 1.5, "gridOpacity": 1,
        "domainColor": "black", "domainWidth": 2, "tickColor": "black", "tickSize": -8, "tickWidth": 1.5
      }
    }
  },
  "layer": [
    {
      "data": {"name": "pts"},
      "mark": {"type": "point", "shape": "circle", "filled": true, "color": "black", "size": 58, "opacity": 1, "strokeWidth": 0}
    },
    {
      "data": {"name": "labels"},
      "mark": {"type": "text", "align": "left", "baseline": "middle", "fontSize": 27, "font": "Liberation Sans", "color": "black"},
      "encoding": {"text": {"field": "label", "type": "nominal"}}
    }
  ]
}
